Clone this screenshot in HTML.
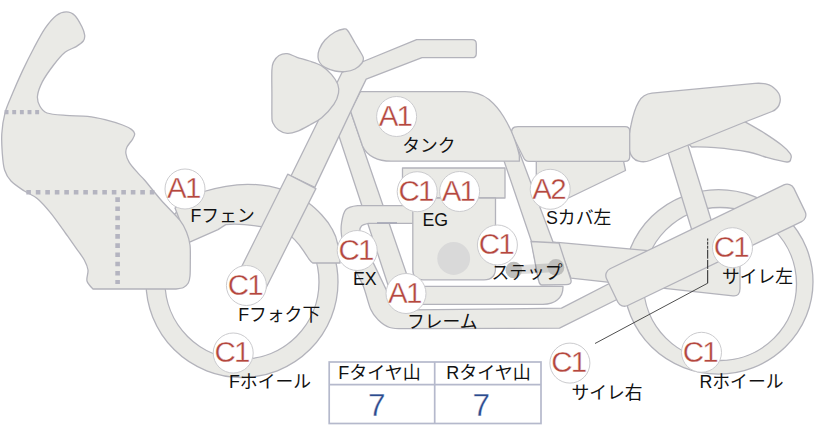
<!DOCTYPE html>
<html lang="ja"><head><meta charset="utf-8"><title>bike</title>
<style>
html,body{margin:0;padding:0;background:#fff;}
body{width:822px;height:425px;overflow:hidden;position:relative;font-family:"Liberation Sans","Noto Sans CJK JP",sans-serif;}
svg{position:absolute;left:0;top:0;display:block}
.sh path,.sh rect,.sh circle{fill:#eaeae6;stroke:#b3b3bb;stroke-width:1.3;stroke-linejoin:round}
.bd{font-family:"Liberation Sans","Noto Sans CJK JP",sans-serif;font-size:29.5px;letter-spacing:-1.8px;fill:#b4473e;text-anchor:middle;stroke:#fff;stroke-width:0.35px}
.lb{font-family:"Liberation Sans","Noto Sans CJK JP",sans-serif;font-size:17.8px;fill:#111}
.th{font-family:"Liberation Sans","Noto Sans CJK JP",sans-serif;font-size:18px;fill:#111}
.tv{font-family:"Liberation Sans","Noto Sans CJK JP",sans-serif;font-size:31.5px;fill:#2c4b8e;text-anchor:middle;stroke:#fff;stroke-width:0.3px}
</style></head><body>
<svg width="822" height="425" viewBox="0 0 822 425">
<g class="sh">
<path fill-rule="evenodd" d="M146.0,282.0 a96.00,95.50 0 1,0 192.0,0 a96.00,95.50 0 1,0 -192.0,0Z M165.0,282.0 a77.00,77.00 0 1,0 154.0,0 a77.00,77.00 0 1,0 -154.0,0Z"/>
<path fill-rule="evenodd" d="M624.0,281.8 a94.50,92.25 0 1,0 189.0,0 a94.50,92.25 0 1,0 -189.0,0Z M643.5,284.0 a76.50,76.50 0 1,0 153.0,0 a76.50,76.50 0 1,0 -153.0,0Z"/>
<path d="M664,139 L686,139 L713,226 L693,234Z" />
<path d="M745.1,121.9 C745.1,121.9 759.1,129.7 765.2,133.6 C771.3,137.5 777.7,141.9 781.9,145.2 C786.1,148.5 788.7,151.4 790.2,153.6 C791.7,155.8 791.5,157.2 790.9,158.6 C790.3,160.0 791.2,162.3 786.9,162.0 C782.6,161.7 771.6,158.7 765.2,157.0 C758.8,155.3 756.9,153.6 748.5,152.0 C740.1,150.4 724.5,148.4 715.0,147.6 C705.5,146.8 691.7,147.0 691.7,147.0 C691.7,147.0 680.0,135.0 680.0,135.0 C680.0,135.0 745.1,121.9 745.1,121.9Z" />
<path d="M652,93.2 L755,83.4 C764,82.8 770,84 774,88 C779,92 781,97 780,102 C779,107 777,109.5 772,111.5 L745,122 L650,160.5 C646,162 642,162 638.7,161.2 C634,160 631,157 629.5,151 C628,143 629,133 631,125 C633,115 635,108 638.7,101.8 C642,96 646,93.8 652,93.2Z" />
<path d="M557.6,242.4 L740,259 L740,288.5 Q740,296.5 733,295.8 L571,278.2Z" />
<path d="M500.3,150 L518.5,150 L553,242 L559,243 L545,270 L538.5,280 L531.5,241.5Z" />
<path d="M350.5,111 L338.3,134 L389,288 Q394,304.3 410,304.3 L543,304.3 C555,304.3 563,298 563,287 L563,286.4 L415,286.4 Q411,286 409,281Z" />
<path d="M415.0,205.7 C415.0,205.7 357.5,205.7 357.5,205.7 C357.5,205.7 348.6,206.7 346.0,209.5 C343.4,212.3 342.3,218.1 341.6,222.5 C340.9,226.9 340.9,231.1 341.6,236.0 C342.3,240.9 343.9,246.7 346.0,252.0 C348.1,257.3 351.1,262.3 354.0,268.0 C356.9,273.7 360.4,279.1 363.2,286.0 C366.0,292.9 368.3,303.9 370.8,309.6 C373.3,315.3 375.2,317.0 378.3,320.0 C381.4,323.0 384.9,326.1 389.6,327.5 C394.3,328.9 406.6,328.7 406.6,328.7 C406.6,328.7 559.5,328.2 559.5,328.2 C559.5,328.2 622.0,297.0 622.0,297.0 C622.0,297.0 622.0,277.0 622.0,277.0 C622.0,277.0 561.5,308.2 561.5,308.2 C561.5,308.2 412.0,309.9 412.0,309.9 C412.0,309.9 401.1,307.4 397.0,304.5 C392.9,301.6 387.7,292.7 387.7,292.7 C387.7,292.7 374.5,265.4 374.5,265.4 C374.5,265.4 364.5,245.6 362.0,240.0 C359.5,234.4 359.8,234.3 359.7,232.0 C359.6,229.7 360.0,227.4 361.5,226.0 C363.0,224.6 368.5,223.4 368.5,223.4 C368.5,223.4 415.0,223.4 415.0,223.4 C415.0,223.4 415.0,205.7 415.0,205.7Z" />
<path d="M377,222.9 H397" style="fill:none;stroke:#a6a8b6;stroke-width:1.5"/>
<path d="M402.5,168 L505,168 L505,198 L402.5,198Z" />
<path d="M412.8,198 L495.5,198 L495.5,268 Q495.5,279.8 484,279.8 L423,279.8 Q412.8,279.8 412.8,270Z" />
<circle cx="453.7" cy="258.5" r="16.4" style="fill:#d9d9d9;stroke:none"/>
<path d="M531,241.5 L559,243 L571,280 Q572,284.7 566,284.7 L542,285 Q539.5,285 538.5,280Z" />
<path d="M513.8,270 L556,267.4" style="fill:none;stroke:rgba(0,0,0,0.13);stroke-width:9"/>
<circle cx="513.8" cy="270" r="8.3" style="fill:#bebebc;stroke:none"/>
<circle cx="556" cy="267.4" r="8.3" style="fill:#bebebc;stroke:none"/>
<path d="M536.3,161.3 L623.6,161.3 L625.5,170.5 L568.5,198 L536.3,198Z" />
<path d="M518,126.7 L625,126.7 Q629.7,126.7 629.7,131 L629.7,157 Q629.7,161.3 625,161.3 L529,161.3 Q525,161.3 523.5,157.5 L512.3,135 Q509.5,126.7 518,126.7Z" />
<path d="M360.4,91.6 L465,91.7 C475,91.7 482.5,94.5 489,99.5 C495,104.5 499.5,110 503.5,116.5 C507.5,123 510.5,129 513.3,136 C516,143 518,149 519.3,155.4 L519.4,161.2 L391,161.2 C378,161.2 366.8,156 362.5,146 L350.5,111Z" />
<rect x="0" y="0" width="208" height="40.8" rx="7.5" transform="translate(603.3,272) rotate(-25.75)"/>
<path d="M175,208 L202,192 C220,186.5 235,184.3 247.6,184.3 C270,184.3 292,191 308.9,203.3 C314,207 318,211 321.8,215 C326,219.5 329.5,224 332.2,229.2 C335,234 336.8,239 337.9,244.8 C338.8,249 339.4,253 339.6,257.7 L340,263 L312.7,263 C311,262 310,260.5 308.9,259 L303.7,251.2 C301,247 298,243 294.6,239.6 C291,236 285,231 280,229.5 C272,227.5 266,227 260.7,226.7 C245,224 232,224 225.7,224.6 L218,229.6 L188.5,242.7Z" />
<path d="M362,62 L416.6,39.7 L472,39.7 Q476.3,39.7 476.3,44 L476.3,53.4 Q476.3,57.7 472,57.7 L422,57.7 L366.2,79.1 L360.2,91.4 L314.8,187.4 L291,176 L342,72.5Z" />
<path d="M287.7,174.2 L315.9,188.6 L262,296 L234,282Z" />
<path d="M271.9,70.0 C271.6,75.5 271.9,87.3 271.9,95.0 C271.9,102.7 271.8,111.4 271.9,116.0 C272.0,120.6 271.7,120.4 272.8,122.7 C273.9,125.0 276.1,128.3 278.5,130.1 C280.9,131.9 284.1,133.1 287.2,133.3 C290.3,133.5 293.3,132.8 297.0,131.4 C300.7,130.1 305.3,127.5 309.4,125.2 C313.5,122.9 317.6,121.3 321.7,117.8 C325.8,114.3 331.2,108.3 334.0,104.2 C336.8,100.1 337.9,96.4 338.5,93.1 C339.1,89.8 338.9,87.5 337.8,84.4 C336.7,81.3 334.3,77.7 331.6,74.6 C328.9,71.5 325.4,68.2 321.7,65.9 C318.0,63.6 313.5,62.4 309.4,61.0 C305.3,59.6 300.7,58.5 297.0,57.3 C293.3,56.1 290.2,53.9 287.2,53.6 C284.2,53.3 281.3,54.1 279.0,55.5 C276.7,56.9 274.7,59.6 273.5,62.0 C272.3,64.4 272.2,64.5 271.9,70.0Z" />
<path d="M344.0,29.0 C346.2,28.8 346.2,28.7 348.0,31.0 C349.8,33.3 352.8,39.3 355.0,43.0 C357.2,46.7 359.6,50.5 361.0,53.0 C362.4,55.5 363.2,56.3 363.4,58.0 C363.6,59.7 363.4,61.2 362.0,63.0 C360.6,64.8 357.8,67.6 355.0,69.0 C352.2,70.4 348.3,71.3 345.0,71.6 C341.7,71.9 338.3,71.7 335.0,71.0 C331.7,70.3 327.5,68.7 325.0,67.4 C322.5,66.1 321.2,64.7 320.0,63.0 C318.8,61.3 318.1,59.3 318.0,57.0 C317.9,54.7 318.2,51.8 319.4,49.0 C320.6,46.2 322.4,42.8 325.0,40.0 C327.6,37.2 331.8,33.8 335.0,32.0 C338.2,30.2 341.8,29.2 344.0,29.0Z" />
<path d="M66.3,11.9 C63.5,11.9 59.6,13.1 56.4,15.5 C53.2,17.9 48.6,23.3 45.2,28.2 C41.8,33.1 37.3,41.6 33.9,48.0 C30.5,54.4 25.8,63.8 22.6,70.6 C19.4,77.4 15.3,86.8 12.7,93.1 C10.1,99.4 6.6,106.8 5.0,112.9 C3.4,119.0 2.2,127.7 1.8,133.8 C1.4,139.9 1.9,148.1 2.3,153.5 C2.7,158.9 3.3,165.9 4.6,170.0 C5.9,174.1 8.1,177.9 11.0,181.0 C13.9,184.1 20.1,188.2 24.0,190.8 C27.9,193.4 33.2,195.2 37.2,198.5 C41.2,201.8 46.1,207.4 50.4,212.7 C54.7,217.9 61.8,228.1 65.7,233.5 C69.6,238.9 73.8,244.8 76.6,248.8 C79.4,252.8 82.6,256.8 84.3,260.0 C86.0,263.2 87.6,266.9 88.0,270.0 C88.4,273.1 86.2,278.1 87.0,281.0 C87.8,283.9 93.0,289.0 93.0,289.0 C93.0,289.0 176.0,289.0 176.0,289.0 C176.0,289.0 181.7,288.4 183.5,287.5 C185.3,286.6 187.3,284.7 188.3,283.0 C189.3,281.3 189.7,279.1 190.0,276.0 C190.3,272.9 190.3,266.6 190.3,262.0 C190.3,257.4 190.6,249.5 190.0,245.0 C189.4,240.5 188.0,235.7 186.5,232.0 C185.0,228.3 183.8,225.2 180.0,220.4 C176.2,215.6 166.3,206.1 161.0,200.0 C155.7,193.9 147.9,184.0 144.5,180.0 C141.1,176.0 140.3,175.9 138.0,173.2 C135.7,170.5 131.0,165.3 129.2,162.3 C127.4,159.3 126.2,155.8 125.9,153.5 C125.6,151.2 126.0,149.1 127.0,147.0 C128.0,144.9 131.3,141.3 132.5,139.3 C133.7,137.3 134.9,135.3 134.7,133.8 C134.5,132.3 133.2,130.7 131.4,129.4 C129.6,128.1 126.6,126.5 122.6,125.0 C118.6,123.5 110.2,120.9 105.0,119.6 C99.8,118.3 93.5,116.9 87.6,116.3 C81.7,115.7 71.8,115.9 65.7,115.4 C59.6,114.9 50.9,114.4 47.0,113.0 C43.1,111.6 41.2,108.5 39.8,106.0 C38.4,103.5 37.1,99.6 37.5,96.0 C37.9,92.4 39.9,86.6 42.3,81.9 C44.7,77.2 50.2,69.5 53.6,65.0 C57.0,60.5 61.6,55.0 65.0,52.2 C68.4,49.4 73.5,48.3 76.2,46.6 C78.9,44.9 82.0,42.7 83.3,41.0 C84.6,39.3 84.9,37.4 84.7,35.3 C84.5,33.2 83.4,29.8 81.9,26.8 C80.4,23.8 77.1,17.7 74.8,15.5 C72.5,13.3 69.1,11.9 66.3,11.9Z" />
<path d="M4.6,112.1 H40" style="fill:none;stroke:#b4b4c0;stroke-width:4.2;stroke-dasharray:3.9 3.75"/>
<path d="M26.3,192.3 H155" style="fill:none;stroke:#b4b4c0;stroke-width:4.5;stroke-dasharray:4.6 4.9"/>
<path d="M117.6,197.3 V284" style="fill:none;stroke:#b4b4c0;stroke-width:4.6;stroke-dasharray:4.6 4.6"/>
<path d="M707.7,238.5 V283.2" style="fill:none;stroke:#222;stroke-width:1;stroke-dasharray:2.2 1 3 1 3 1 9 1.2 9 1.2 20"/>
<path d="M707.7,283.2 L595,343.5" style="fill:none;stroke:#222;stroke-width:0.8"/>
</g>
<g>
<circle cx="185.0" cy="189.0" r="20.0" fill="#fff" stroke="#cbcbce" stroke-width="1"/><text x="183.3" y="198.2" class="bd">A1</text>
<text x="190.5" y="221.5" class="lb">Fフェン</text>
<circle cx="396.6" cy="116.5" r="20.0" fill="#fff" stroke="#cbcbce" stroke-width="1"/><text x="394.9" y="125.7" class="bd">A1</text>
<text x="402.2" y="151.7" class="lb">タンク</text>
<circle cx="417.2" cy="191.7" r="20.0" fill="#fff" stroke="#cbcbce" stroke-width="1"/><text x="415.5" y="200.9" class="bd">C1</text>
<circle cx="459.6" cy="191.5" r="20.0" fill="#fff" stroke="#cbcbce" stroke-width="1"/><text x="457.9" y="200.7" class="bd">A1</text>
<text x="422.5" y="226.0" class="lb">EG</text>
<circle cx="550.2" cy="189.3" r="20.0" fill="#fff" stroke="#cbcbce" stroke-width="1"/><text x="548.5" y="198.5" class="bd">A2</text>
<text x="546.0" y="223.5" class="lb">Sカバ左</text>
<circle cx="497.4" cy="245.0" r="20.0" fill="#fff" stroke="#cbcbce" stroke-width="1"/><text x="495.7" y="254.2" class="bd">C1</text>
<text x="491.5" y="279.0" class="lb">ステップ</text>
<circle cx="357.2" cy="250.5" r="20.0" fill="#fff" stroke="#cbcbce" stroke-width="1"/><text x="355.5" y="259.7" class="bd">C1</text>
<text x="353.0" y="285.2" class="lb">EX</text>
<circle cx="406.0" cy="293.5" r="20.0" fill="#fff" stroke="#cbcbce" stroke-width="1"/><text x="404.3" y="302.7" class="bd">A1</text>
<text x="407.0" y="327.5" class="lb">フレーム</text>
<circle cx="246.4" cy="285.5" r="20.0" fill="#fff" stroke="#cbcbce" stroke-width="1"/><text x="244.7" y="294.7" class="bd">C1</text>
<text x="238.2" y="321.0" class="lb">Fフォク下</text>
<circle cx="233.2" cy="353.0" r="20.0" fill="#fff" stroke="#cbcbce" stroke-width="1"/><text x="231.5" y="362.2" class="bd">C1</text>
<text x="229.0" y="388.0" class="lb">Fホイール</text>
<circle cx="732.5" cy="247.7" r="20.0" fill="#fff" stroke="#cbcbce" stroke-width="1"/><text x="730.8" y="256.9" class="bd">C1</text>
<text x="722.0" y="283.0" class="lb">サイレ左</text>
<circle cx="569.9" cy="363.1" r="20.0" fill="#fff" stroke="#cbcbce" stroke-width="1"/><text x="568.2" y="372.3" class="bd">C1</text>
<text x="571.5" y="399.0" class="lb">サイレ右</text>
<circle cx="701.5" cy="352.3" r="20.0" fill="#fff" stroke="#cbcbce" stroke-width="1"/><text x="699.8" y="361.5" class="bd">C1</text>
<text x="699.5" y="388.0" class="lb">Rホイール</text>
</g>
<g>
<rect x="329.2" y="362" width="211.8" height="61.5" fill="#fff" stroke="#b5b9cc" stroke-width="1.7"/>
<path d="M434.7,362 V423.5 M329.2,384.6 H541" fill="none" stroke="#b5b9cc" stroke-width="1.7"/>
<text x="338.2" y="379.4" class="th">Fタイヤ山</text>
<text x="446.3" y="379.4" class="th">Rタイヤ山</text>
<text x="376.7" y="416" class="tv">7</text>
<text x="481.2" y="416" class="tv">7</text>
</g>
</svg>
</body></html>
